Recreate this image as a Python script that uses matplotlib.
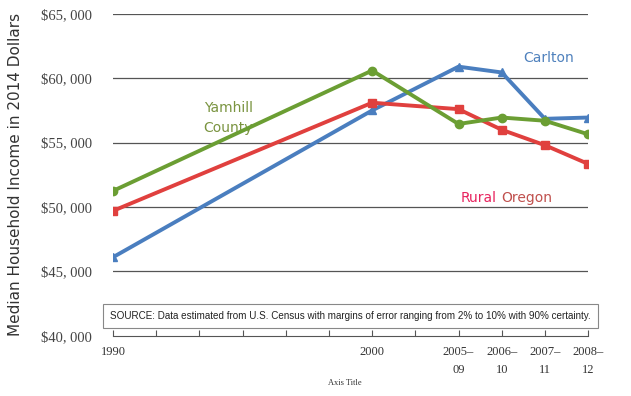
import matplotlib
matplotlib.use('Agg')
import matplotlib.pyplot as plt
import numpy as np

# Daten
periods = ['1990', '2000', '2005–\n09', '2006–\n10', '2007–\n11', '2008–\n12']
xpos = [0, 6, 8, 9, 10, 11]
carlton = [46100, 57500, 60900, 60450, 56850, 56950]
yamhill = [51250, 60600, 56450, 56950, 56700, 55650]
rural = [49700, 58100, 57600, 56000, 54800, 53350]
yticks = [40000, 45000, 50000, 55000, 60000, 65000]
ylabels = ['$40, 000', '$45, 000', '$50, 000', '$55, 000', '$60, 000', '$65, 000']

fig = plt.figure(figsize=(6.31, 3.96), dpi=100)
ax = fig.add_axes([0.179, 0.152, 0.753, 0.813])

for y in yticks[1:]:
    ax.axhline(y, color='#555555', linewidth=0.9, zorder=1)

ax.plot(xpos, carlton, '-^', color='#4a7ebf', linewidth=2.8, markersize=6, zorder=3)
ax.plot(xpos, rural, '-s', color='#e0403e', linewidth=2.8, markersize=6, zorder=3)
ax.plot(xpos, yamhill, '-o', color='#6b9e33', linewidth=2.8, markersize=6, zorder=4)

ax.set_xlim(0, 11)
ax.set_ylim(40000, 65000)
ax.set_xticks(range(12))
ax.set_xticklabels([''] * 12)
for xp, lab in zip(xpos, periods):
    ax.text(xp, 39200, lab, ha='center', va='top', fontsize=9, family='Liberation Serif',
            color='#333333', linespacing=1.6)
ax.set_yticks(yticks)
ax.set_yticklabels(ylabels, family='Liberation Serif', fontsize=10.5, color='#444444')
ax.tick_params(axis='y', length=0, pad=15)
ax.tick_params(axis='x', direction='in', length=4, color='#555555')

for s in ['top', 'right', 'left']:
    ax.spines[s].set_visible(False)
ax.spines['bottom'].set_color('#555555')

ax.set_ylabel('Median Household Income in 2014 Dollars', fontsize=11, family='DejaVu Sans',
              color='#333333', labelpad=13)
fig.text(0.547, 0.028, 'Axis Title', fontsize=6, family='Liberation Serif', ha='center', color='#333333')

ax.text(9.5, 61300, 'Carlton', color='#4f81bd', fontsize=10)
ax.text(2.1, 55850, 'Yamhill\nCounty', color='#7a9440', fontsize=10, linespacing=1.5)
ax.text(8.05, 50400, 'Rural', color='#e8245f', fontsize=10)
ax.text(9.0, 50400, 'Oregon', color='#c0504d', fontsize=10)

ax.text(-0.07, 41550, 'SOURCE: Data estimated from U.S. Census with margins of error ranging from 2% to 10% with 90% certainty.',
        fontsize=7.1, color='#222222', va='center', family='Liberation Sans',
        bbox=dict(boxstyle='square,pad=0.7', facecolor='white', edgecolor='#888888', linewidth=0.8))

plt.savefig('out.png', dpi=100)
